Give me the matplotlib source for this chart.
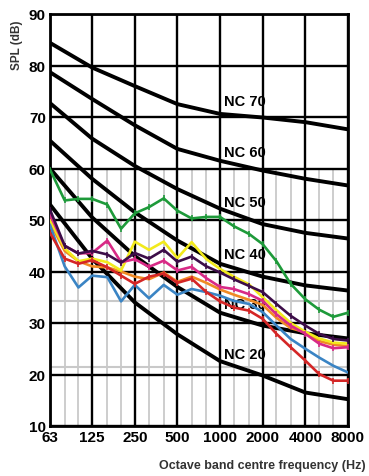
import matplotlib
matplotlib.use("Agg")
import matplotlib.pyplot as plt

# one-third octave bands used for the measured spectra
bands = [63, 80, 100, 125, 160, 200, 250, 315, 400, 500, 630, 800,
         1000, 1250, 1600, 2000, 2500, 3150, 4000, 5000, 6300, 8000]
octaves = [63, 125, 250, 500, 1000, 2000, 4000, 8000]
octave_labels = ["63", "125", "250", "500", "1000", "2000", "4000", "8000"]
spl_ticks = [10, 20, 30, 40, 50, 60, 70, 80, 90]

# NC reference curves (dB at octave centres)
nc70 = [84.4, 79.6, 76.0, 72.5, 70.6, 69.9, 69.0, 67.6]
nc60 = [78.7, 73.5, 68.4, 63.8, 61.5, 59.6, 58.0, 56.7]
nc50 = [72.7, 65.8, 60.5, 56.0, 52.2, 49.2, 47.5, 46.4]
nc40 = [65.4, 58.0, 51.5, 46.0, 41.5, 39.0, 37.3, 36.3]
nc30 = [60.0, 50.5, 43.0, 37.0, 32.0, 29.5, 28.0, 27.0]
nc20 = [53.0, 42.5, 34.0, 27.8, 22.6, 19.8, 16.5, 15.2]
nc_names = ["NC 70", "NC 60", "NC 50", "NC 40", "NC 30", "NC 20"]
nc_label_y = [73.1, 63.2, 53.5, 43.4, 33.7, 24.0]

# measured spectra
green = [59.8, 53.8, 54.1, 54.1, 53.0, 48.3, 51.3, 52.5, 54.2, 51.8, 50.3,
         50.6, 50.6, 48.8, 47.3, 45.3, 42.0, 37.6, 34.6, 32.6, 31.2, 32.0]
purple = [52.0, 45.0, 43.5, 44.0, 43.3, 41.7, 43.6, 42.5, 44.2, 41.9, 42.9,
          41.0, 39.8, 38.5, 37.2, 36.0, 33.7, 31.4, 29.5, 27.9, 26.9, 26.6]
magenta = [51.0, 45.0, 43.5, 43.6, 46.0, 41.8, 42.4, 40.9, 42.1, 40.2, 40.9,
           38.7, 37.0, 36.6, 35.6, 34.3, 31.7, 29.5, 27.9, 26.0, 25.1, 25.3]
yellow = [50.0, 44.5, 42.0, 42.5, 41.8, 40.2, 45.8, 44.2, 45.8, 42.6, 45.7,
          42.4, 40.5, 39.0, 37.5, 35.0, 32.5, 30.0, 28.3, 27.0, 26.2, 26.0]
orange = [49.5, 44.0, 42.0, 41.0, 40.8, 40.0, 39.0, 38.5, 39.8, 38.0, 39.0,
          37.8, 36.5, 35.5, 34.5, 33.5, 31.0, 29.0, 28.2, 26.5, 25.8, 25.5]
red = [47.5, 42.5, 41.5, 42.2, 40.8, 39.2, 37.6, 39.0, 39.6, 37.8, 38.6,
       36.0, 34.2, 33.0, 32.4, 30.8, 27.9, 25.3, 22.7, 20.1, 18.8, 18.8]
blue = [49.0, 41.0, 36.9, 39.2, 38.9, 34.2, 37.4, 34.8, 37.4, 35.5, 36.6,
        36.0, 35.3, 34.3, 33.7, 32.1, 29.5, 26.9, 25.0, 23.3, 21.7, 20.4]

plt.rcParams["font.family"] = ["Liberation Sans", "DejaVu Sans"]

W, H = 369, 477
fig = plt.figure(figsize=(W / 100, H / 100), dpi=100)
ax = fig.add_axes([50 / W, 1 - 427 / H, 298 / W, 412 / H])
ax.set_xscale("log")
ax.set_xlim(63, 8000)
ax.set_ylim(10, 90)

# light one-third octave grid in the lower part
ax.vlines(bands, 10, 60, color="#c9c9c9", lw=1.3, zorder=1)
for yv in (21.5, 34.3):
    ax.axhline(yv, color="#c9c9c9", lw=1.5, zorder=1)
# heavy octave / 10 dB grid
for f in octaves:
    ax.axvline(f, color="black", lw=1.7, zorder=2)
for yv in spl_ticks:
    ax.axhline(yv, color="black", lw=1.7, zorder=2)

for curve in (nc70, nc60, nc50, nc40, nc30, nc20):
    ax.plot(octaves, curve, color="black", lw=2.8, zorder=3,
            solid_capstyle="butt")

for name, yv in zip(nc_names, nc_label_y):
    ax.text(1060, yv, name, ha="left", va="center", zorder=3,
            fontsize=10.5, fontweight="bold")

series = [(orange, "#f08a24", None), (yellow, "#f2ea1c", None),
          (blue, "#3a84c4", None), (magenta, "#d82a86", "|"),
          (purple, "#3c0d48", "|"), (red, "#d42626", "|"),
          (green, "#1e9a3a", "|")]
for vals, col, mk in series:
    ax.plot(bands, vals, color=col, lw=1.9, marker=mk, ms=4, mew=1.2,
            zorder=4)

ax.set_xticks(octaves)
ax.set_xticklabels(octave_labels)
ax.minorticks_off()
ax.set_yticks(spl_ticks)
ax.tick_params(length=0, pad=3, labelsize=11)
for t in ax.get_xticklabels() + ax.get_yticklabels():
    t.set_fontweight("bold")
for s in ax.spines.values():
    s.set_linewidth(2)

fig.text(17 / W, 1 - 45 / H, "SPL (dB)", rotation=90, ha="center",
         va="center", fontsize=8.5, fontweight="bold", color="#333333")
fig.text(366 / W, 1 - 466 / H, "Octave band centre frequency (Hz)",
         ha="right", va="center", fontsize=9, fontweight="bold",
         color="#333333")

fig.savefig("out.png", dpi=100)
